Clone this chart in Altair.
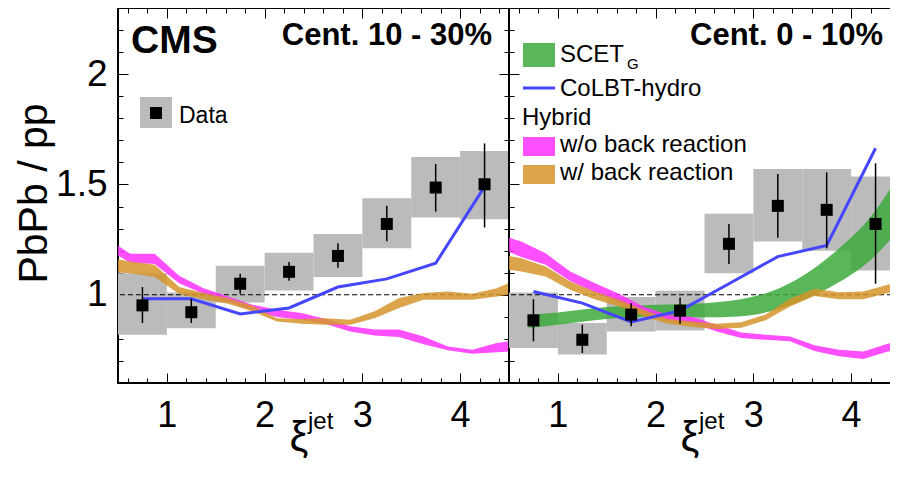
import altair as alt
import pandas as pd

FONT = "Liberation Sans"

# ---------------- data ----------------
bin_lo = [0.5, 1.0, 1.5, 2.0, 2.5, 3.0, 3.5, 4.0]
bin_hi = [1.0, 1.5, 2.0, 2.5, 3.0, 3.5, 4.0, 4.5]
xi_center = [0.75, 1.25, 1.75, 2.25, 2.75, 3.25, 3.75, 4.25]

# Cent. 10 - 30%
data_1030 = [0.952, 0.921, 1.050, 1.104, 1.176, 1.321, 1.486, 1.501]
stat_lo_1030 = [0.872, 0.872, 1.005, 1.063, 1.122, 1.243, 1.377, 1.305]
stat_hi_1030 = [1.035, 0.982, 1.095, 1.148, 1.234, 1.404, 1.593, 1.686]
sys_lo_1030 = [0.819, 0.848, 0.965, 1.019, 1.080, 1.211, 1.350, 1.342]
sys_hi_1030 = [1.098, 1.010, 1.131, 1.191, 1.276, 1.438, 1.624, 1.652]
colbt_1030 = [0.982, 0.982, 0.913, 0.940, 1.035, 1.072, 1.143, 1.490]

# Cent. 0 - 10%
data_010 = [0.884, 0.796, 0.910, 0.928, 1.231, 1.403, 1.385, 1.321]
stat_lo_010 = [0.789, 0.736, 0.857, 0.869, 1.140, 1.259, 1.211, 1.050]
stat_hi_010 = [0.980, 0.864, 0.962, 0.988, 1.321, 1.548, 1.555, 1.596]
sys_lo_010 = [0.759, 0.729, 0.834, 0.838, 1.098, 1.241, 1.199, 1.110]
sys_hi_010 = [1.010, 0.872, 0.990, 1.018, 1.367, 1.570, 1.570, 1.536]
colbt_010 = [1.015, 0.962, 0.877, 0.928, 1.050, 1.173, 1.224, 1.664]

# Hybrid model bands
hyb_x = [0.5, 0.625, 0.875, 1.125, 1.375, 1.625, 1.875, 2.125, 2.375,
         2.625, 2.875, 3.125, 3.375, 3.625, 3.875, 4.125, 4.375, 4.5]
wo_lo_1030 = [1.178, 1.145, 1.140, 1.052, 1.005, 0.970, 0.929, 0.899, 0.887,
              0.867, 0.834, 0.815, 0.809, 0.776, 0.748, 0.733, 0.739, 0.743]
wo_hi_1030 = [1.222, 1.186, 1.186, 1.086, 1.030, 0.992, 0.955, 0.932, 0.917,
              0.890, 0.857, 0.842, 0.842, 0.811, 0.766, 0.751, 0.781, 0.789]
w_lo_1030 = [1.101, 1.098, 1.080, 1.003, 0.980, 0.959, 0.925, 0.879, 0.869,
             0.864, 0.864, 0.894, 0.940, 0.977, 0.977, 0.977, 0.992, 1.000]
w_hi_1030 = [1.161, 1.151, 1.136, 1.035, 1.008, 0.985, 0.950, 0.894, 0.890,
             0.894, 0.887, 0.925, 0.985, 1.008, 1.015, 1.005, 1.030, 1.053]
wo_lo_010 = [1.195, 1.171, 1.136, 1.062, 1.011, 0.965, 0.914, 0.882, 0.872,
             0.834, 0.804, 0.796, 0.789, 0.745, 0.721, 0.709, 0.743, 0.751]
wo_hi_010 = [1.258, 1.241, 1.188, 1.105, 1.053, 1.005, 0.947, 0.909, 0.899,
             0.864, 0.829, 0.819, 0.811, 0.771, 0.751, 0.743, 0.778, 0.789]
w_lo_010 = [1.113, 1.106, 1.083, 1.023, 0.980, 0.947, 0.902, 0.869, 0.854,
            0.845, 0.850, 0.885, 0.947, 0.994, 0.980, 0.980, 1.008, 1.020]
w_hi_010 = [1.176, 1.166, 1.128, 1.060, 1.015, 0.977, 0.932, 0.890, 0.879,
            0.869, 0.875, 0.910, 0.982, 1.027, 1.011, 1.015, 1.045, 1.058]

# SCET_G band (0-10% only)
scet_x = [0.7, 1.0, 1.5, 2.0, 2.5, 2.84, 3.18, 3.52, 3.86, 4.2, 4.5]
scet_lo = [0.849, 0.864, 0.890, 0.900, 0.898, 0.902, 0.925, 0.977, 1.053, 1.158, 1.300]
scet_hi = [0.910, 0.920, 0.944, 0.955, 0.962, 0.977, 1.015, 1.090, 1.204, 1.354, 1.550]

# axis ticks
x_major = [1, 2, 3, 4]
x_minor = [0.6, 0.8, 1.2, 1.4, 1.6, 1.8, 2.2, 2.4, 2.6, 2.8, 3.2, 3.4, 3.6, 3.8, 4.2, 4.4]
y_major = [1.0, 1.5, 2.0]
y_minor = [0.7, 0.8, 0.9, 1.1, 1.2, 1.3, 1.4, 1.6, 1.7, 1.8, 1.9, 2.1, 2.2]

# ---------------- styles ----------------
GRAY = "#bbbbbb"
GREEN = "#3caa3c"
MAGENTA = "#ff30ff"
ORANGE = "#d6952b"
BLUE = "#4646ff"
BAND_OP = 0.85
H = 375
W = 391
LEG = 24

XS = alt.Scale(domain=[0.5, 4.5], nice=False, zero=False)
YS = alt.Scale(domain=[0.6, 2.3], nice=False, zero=False)


def xaxis(orient, major, labels=False):
    size = 10 if major else 5
    return alt.Axis(orient=orient, values=x_major if major else x_minor,
                    tickSize=size, offset=-size, labels=labels, domain=False,
                    grid=False, title=None, minExtent=0, tickColor="black",
                    tickWidth=1, labelFontSize=36, labelFont=FONT,
                    labelColor="black", labelPadding=15, labelFlush=False)


def yaxis(orient, major, labels=False, title=None):
    size = 10 if major else 5
    if title:
        kw = dict(title=title, titleFont=FONT, titleFontSize=41,
                  titleFontWeight="normal", titleColor="black",
                  titleAngle=270, titleAlign="center",
                  titleBaseline="alphabetic", titleX=-82, titleY=185)
    else:
        kw = dict(title=None)
    return alt.Axis(orient=orient, values=y_major if major else y_minor,
                    tickSize=size, offset=-size, labels=labels, domain=False,
                    grid=False, minExtent=0, tickColor="black", tickWidth=1,
                    labelFontSize=37, labelFont=FONT, labelColor="black",
                    labelPadding=11, format=".2~f", labelFlush=False, **kw)


def one():
    return pd.DataFrame({"a": [0]})


def text(t, x, y, size, weight="normal", align="left"):
    return alt.Chart(one()).mark_text(
        text=t, font=FONT, fontSize=size, fontWeight=weight, align=align,
        baseline="alphabetic", color="black").encode(
        x=alt.value(x), y=alt.value(y))


def box(x1, x2, y1, y2, color, op=1.0):
    return alt.Chart(one()).mark_rect(color=color, opacity=op).encode(
        x=alt.value(x1), x2=alt.value(x2), y=alt.value(y1), y2=alt.value(y2))


def panel(cent, data, st_lo, st_hi, sy_lo, sy_hi, colbt,
          wo_lo, wo_hi, w_lo, w_hi, left, scet=None):
    box_df = pd.DataFrame({"x_lo": bin_lo, "x_hi": bin_hi, "lo": sy_lo, "hi": sy_hi})
    pt_df = pd.DataFrame({"x": xi_center, "y": data, "lo": st_lo, "hi": st_hi})
    col_df = pd.DataFrame({"x": xi_center, "y": colbt})
    wo_df = pd.DataFrame({"x": hyb_x, "lo": wo_lo, "hi": wo_hi})
    w_df = pd.DataFrame({"x": hyb_x, "lo": w_lo, "hi": w_hi})

    layers = []
    layers.append(alt.Chart(box_df).mark_rect(color=GRAY, clip=True).encode(
        x=alt.X("x_lo:Q", scale=XS, axis=xaxis("bottom", True, labels=True)),
        x2="x_hi:Q",
        y=alt.Y("lo:Q", scale=YS,
                axis=yaxis("left", True, labels=left,
                           title="PbPb / pp" if left else None)),
        y2="hi:Q"))
    layers.append(alt.Chart(pd.DataFrame({"one": [1.0]})).mark_rule(
        color="black", strokeWidth=1.2, strokeDash=[5, 3]).encode(
        y=alt.Y("one:Q", scale=YS, axis=None)))
    if scet is not None:
        sc_df = pd.DataFrame({"x": scet[0], "lo": scet[1], "hi": scet[2]})
        layers.append(alt.Chart(sc_df).mark_area(
            color=GREEN, opacity=BAND_OP, interpolate="monotone", clip=True).encode(
            x=alt.X("x:Q", scale=XS, axis=None),
            y=alt.Y("lo:Q", scale=YS, axis=None), y2="hi:Q"))
    layers.append(alt.Chart(wo_df).mark_area(
        color=MAGENTA, opacity=BAND_OP, clip=True).encode(
        x=alt.X("x:Q", scale=XS, axis=xaxis("top", True)),
        y=alt.Y("lo:Q", scale=YS, axis=yaxis("right", True)), y2="hi:Q"))
    layers.append(alt.Chart(w_df).mark_area(
        color=ORANGE, opacity=BAND_OP, clip=True).encode(
        x=alt.X("x:Q", scale=XS, axis=xaxis("bottom", False)),
        y=alt.Y("lo:Q", scale=YS, axis=yaxis("left", False)), y2="hi:Q"))
    layers.append(alt.Chart(col_df).mark_line(
        color=BLUE, strokeWidth=3, clip=True).encode(
        x=alt.X("x:Q", scale=XS, axis=xaxis("top", False)),
        y=alt.Y("y:Q", scale=YS, axis=yaxis("right", False))))
    layers.append(alt.Chart(pt_df).mark_rule(color="black", strokeWidth=1.5).encode(
        x=alt.X("x:Q", scale=XS, axis=None),
        y=alt.Y("lo:Q", scale=YS, axis=None), y2="hi:Q"))
    layers.append(alt.Chart(pt_df).mark_square(color="black", opacity=1, size=144).encode(
        x=alt.X("x:Q", scale=XS, axis=None),
        y=alt.Y("y:Q", scale=YS, axis=None)))

    # labels
    layers.append(text(cent, 374, 37, 31, weight="bold", align="right"))
    layers.append(text("\u03be", 181, 443, 42, align="center"))
    layers.append(text("jet", 190, 421, 24))
    if left:
        layers.append(text("CMS", 13, 45, 39, weight="bold"))
        layers.append(box(22, 54, 89, 120, GRAY))
        layers.append(alt.Chart(one()).mark_square(
            color="black", opacity=1, size=144).encode(
            x=alt.value(38), y=alt.value(105)))
        layers.append(text("Data", 61, 115, 23))
    else:
        layers.append(box(14, 46, 35, 59, GREEN, BAND_OP))
        layers.append(text("SCET", 51, 54, LEG))
        layers.append(text("G", 118, 61, 15))
        layers.append(alt.Chart(one()).mark_rule(
            color=BLUE, strokeWidth=3).encode(
            x=alt.value(14), x2=alt.value(46), y=alt.value(80)))
        layers.append(text("CoLBT-hydro", 51, 88, LEG))
        layers.append(text("Hybrid", 13, 117, LEG))
        layers.append(box(14, 46, 129, 148, MAGENTA, BAND_OP))
        layers.append(text("w/o back reaction", 51, 144, LEG))
        layers.append(box(14, 46, 157, 176, ORANGE, BAND_OP))
        layers.append(text("w/ back reaction", 51, 172, LEG))

    return alt.layer(*layers).resolve_axis(
        x="independent", y="independent").properties(width=W, height=H)


left_panel = panel("Cent. 10 - 30%", data_1030, stat_lo_1030, stat_hi_1030,
                   sys_lo_1030, sys_hi_1030, colbt_1030,
                   wo_lo_1030, wo_hi_1030, w_lo_1030, w_hi_1030, left=True)
right_panel = panel("Cent. 0 - 10%", data_010, stat_lo_010, stat_hi_010,
                    sys_lo_010, sys_hi_010, colbt_010,
                    wo_lo_010, wo_hi_010, w_lo_010, w_hi_010, left=False,
                    scet=(scet_x, scet_lo, scet_hi))

# Fixed-size canvas (882 x 452): plot origin 110 px from the left edge,
# the right panel runs off the right edge like in the reference.
chart = alt.hconcat(left_panel, right_panel, spacing=0, bounds="flush").properties(
    autosize=alt.AutoSizeParams(type="none"),
    padding={"left": 110, "top": 0, "right": 772, "bottom": 452},
).configure_view(stroke="black", strokeWidth=2)

chart.save("out.html", embed_options={"renderer": "svg", "actions": False})
